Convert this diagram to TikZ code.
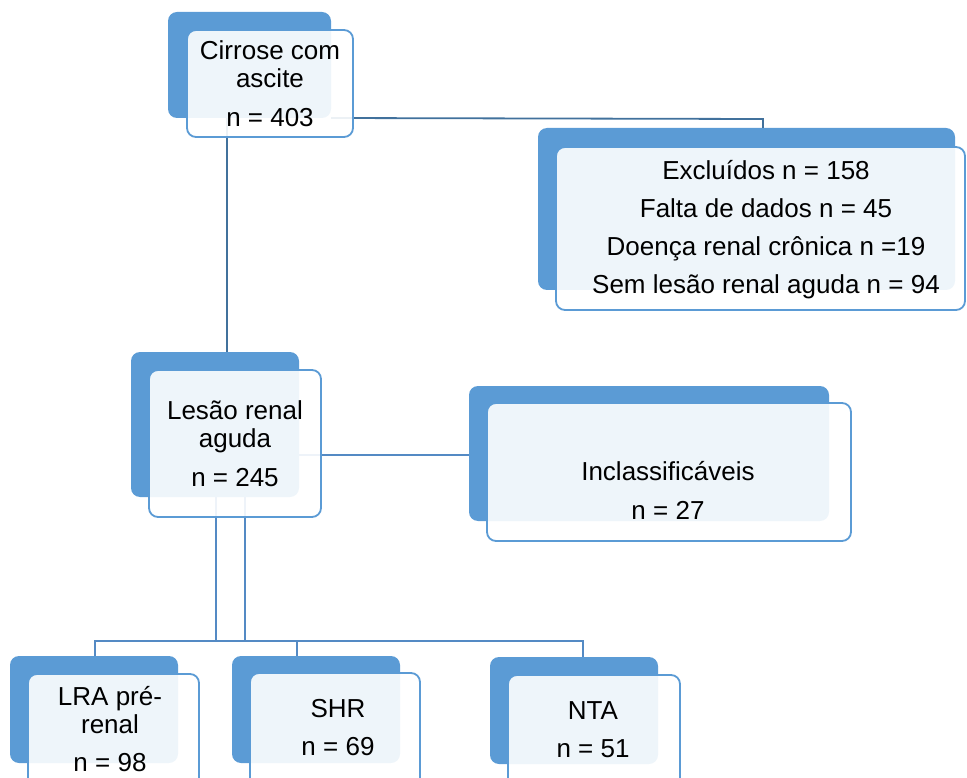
\documentclass[tikz,border=0pt]{standalone}
\usepackage{fontspec}
\setmainfont{Liberation Sans}
\usetikzlibrary{calc}
\definecolor{bk}{RGB}{91,155,213}
\definecolor{lnd}{RGB}{65,113,156}
\definecolor{lnl}{RGB}{84,138,196}
\tikzset{
  backbox/.style={fill=bk, rounded corners=9pt, inner sep=0pt, outer sep=0pt, anchor=north west},
  frontbox/.style={draw=bk, line width=1.8pt, fill=white, fill opacity=0.9, rounded corners=9pt, inner sep=0pt, outer sep=0pt, anchor=north west},
  txt/.style={align=center, inner sep=0pt, font=\fontsize{26}{28}\selectfont},
  conn/.style={draw=lnd, line width=1.8pt},
  connl/.style={draw=lnl, line width=1.8pt}
}
\begin{document}
\begin{tikzpicture}[x=1pt,y=-1pt]
\useasboundingbox (0,0) rectangle (967,778);
\clip (0,0) rectangle (967,778);
% back boxes
\node[backbox, minimum width=163pt, minimum height=106pt] (cb) at (168,12) {};
\node[backbox, minimum width=417pt, minimum height=162pt] (eb) at (538,128) {};
\node[backbox, minimum width=168pt, minimum height=145pt] (lb) at (131,352) {};
\node[backbox, minimum width=360pt, minimum height=135pt] (ib) at (469,386) {};
\node[backbox, minimum width=168pt, minimum height=107pt] (pb) at (10,656) {};
\node[backbox, minimum width=168pt, minimum height=107pt] (sb) at (232,656) {};
\node[backbox, minimum width=168pt, minimum height=107pt] (nb) at (490,657) {};
% connector helper points
\coordinate (j1) at (763,119);
\coordinate (j2) at (227,118);
\coordinate (j3) at (299,455);
\coordinate (j4) at (216,497);
\coordinate (j5) at (245,497);
\coordinate (h) at (0,641);
\coordinate (dp) at (95,641);
\coordinate (ds) at (297,641);
\coordinate (dn) at (583,641);
% connectors
\draw[conn] (cb.south east) -- (j1) -- (j1 |- eb.north);
\draw[conn] (j2) -- (j2 |- lb.north);
\draw[connl] (j3) -- (j3 -| ib.west);
\draw[connl] (j4) -- (j4 |- h);
\draw[connl] (j5) -- (j5 |- h);
\draw[connl] (dp |- pb.north) -- (dp) -- (dn) -- (dn |- nb.north);
\draw[connl] (ds) -- (ds |- sb.north);
% front boxes
\node[frontbox, minimum width=166pt, minimum height=107pt] (c) at (187,30) {};
\node[frontbox, minimum width=409pt, minimum height=163pt] (e) at (556,147) {};
\node[frontbox, minimum width=172pt, minimum height=147pt] (l) at (149,370) {};
\node[frontbox, minimum width=364pt, minimum height=138pt] (i) at (487,403) {};
\node[frontbox, minimum width=171pt, minimum height=120pt] (p) at (28,674) {};
\node[frontbox, minimum width=170pt, minimum height=120pt] (s) at (250,673) {};
\node[frontbox, minimum width=172pt, minimum height=120pt] (n) at (508,675) {};
% texts
\node[txt] (ct) at (270,84) {Cirrose com\\ascite\\[11pt]n = 403};
\node[txt] (et) at (766,230) {Excluídos n = 158\\[10pt]Falta de dados n = 45\\[10pt]Doença renal crônica n =19\\[10pt]Sem lesão renal aguda n = 94};
\node[txt] (lt) at (235,444) {Lesão renal\\aguda\\[11pt]n = 245};
\node[txt] (it) at (668,490) {Inclassificáveis\\[11pt]n = 27};
\node[txt] (pt) at (110,729) {LRA pré-\\renal\\[10pt]n = 98};
\node[txt] (st) at (338,728) {SHR\\[10pt]n = 69};
\node[txt] (nt) at (593,730) {NTA\\[10pt]n = 51};
\end{tikzpicture}
\end{document}
